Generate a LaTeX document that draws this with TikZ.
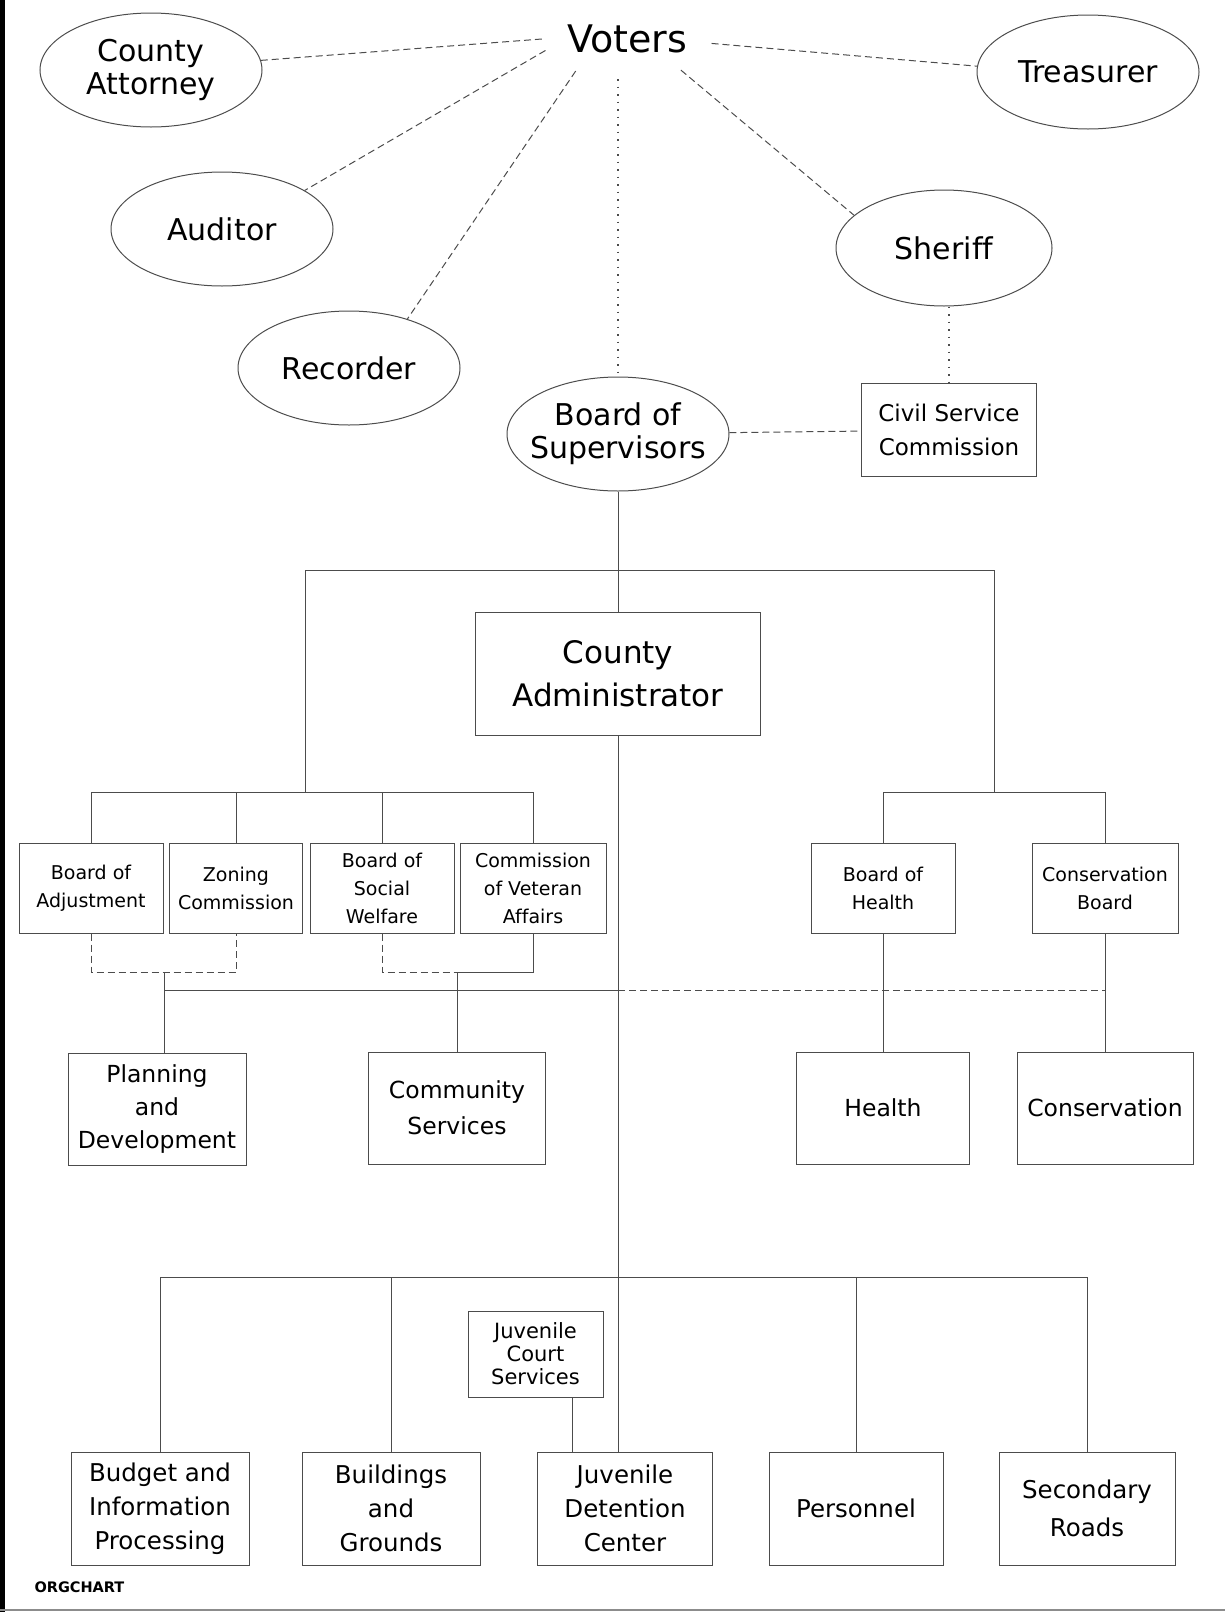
\documentclass[tikz,border=0pt]{standalone}
\usepackage{fontspec}
\setmainfont{DejaVu Sans}[Ligatures=NoCommon]
\usetikzlibrary{shapes.geometric}
\definecolor{penline}{rgb}{0.3,0.3,0.3}
\tikzset{
  elected/.style={
    ellipse,
    draw=penline,
    line width=1pt,
    minimum width=222pt,
    minimum height=114pt,
    inner xsep=-20pt,
    inner ysep=0pt,
    align=center,
    font=\fontsize{30}{33}\selectfont
  },
  minibox/.style={
    rectangle,
    draw=penline,
    line width=1pt,
    minimum width=144pt,
    minimum height=90pt,
    inner sep=4pt,
    align=center,
    font=\fontsize{19}{28}\selectfont
  },
  bigbox/.style={
    rectangle,
    draw=penline,
    line width=1pt,
    minimum width=177pt,
    minimum height=112pt,
    inner sep=4pt,
    align=center,
    font=\fontsize{23.5}{33}\selectfont
  },
  wire/.style={
    line width=1pt,
    penline
  },
  link/.style={
    line width=1pt,
    penline,
    dash pattern=on 7pt off 4pt
  },
  dotlink/.style={
    line width=1.4pt,
    penline,
    dash pattern=on 1.5pt off 6pt
  }
}
\begin{document}
\begin{tikzpicture}[x=1pt,y=-1pt]
\useasboundingbox (0,0) rectangle (1225,1612);

% elected offices
\node[ellipse, minimum width=164pt, minimum height=80pt, inner sep=0pt,
  font=\fontsize{38}{40}\selectfont] (voters) at (627,39) {Voters};
\node[elected] (attorney) at (151,70) {County\\Attorney};
\node[elected] (auditor) at (222,229) {Auditor};
\node[elected] (recorder) at (349,368) {Recorder};
\node[elected] (treasurer) at (1088,72) {Treasurer};
\node[elected, minimum width=216pt, minimum height=116pt] (sheriff) at (944,248) {Sheriff};
\node[elected] (supervisors) at (618,434) {Board of\\Supervisors};
\node[minibox, minimum width=175pt, minimum height=93pt,
  font=\fontsize{23}{34}\selectfont] (civil) at (949,430) {Civil Service\\Commission};

\draw[link] (voters.180) -- (attorney.5);
\draw[link] (voters.188) -- (auditor.25);
\draw[link] (voters.212) -- (recorder.40);
\draw[link] (voters.-3) -- (treasurer.177);
\draw[link] (voters.-30) -- (sheriff.160);
\draw[dotlink] (voters.south -| supervisors) -- (supervisors.north);
\draw[dotlink] (sheriff.south -| civil) -- (civil.north);
\draw[link] (supervisors) -- (civil);

% administrator and boards
\node[bigbox, minimum width=285pt, minimum height=123pt,
  font=\fontsize{31}{43}\selectfont] (admin) at (618,673.5) {County\\Administrator};
\node[minibox] (adjust) at (91,888) {Board of\\Adjustment};
\node[minibox, minimum width=133pt] (zoning) at (236,888) {Zoning\\Commission};
\node[minibox] (welfare) at (382,888) {Board of\\Social\\Welfare};
\node[minibox, minimum width=146pt] (veteran) at (533,888) {Commission\\of Veteran\\Affairs};
\node[minibox] (bhealth) at (883,888) {Board of\\Health};
\node[minibox, minimum width=146pt] (cboard) at (1105,888) {Conservation\\Board};

\coordinate (lbranch) at (305,570);
\coordinate (rbranch) at (994,570);
\coordinate (lsplit) at (305,792);
\coordinate (rsplit) at (994,792);
\draw[wire] (supervisors.south) -- (admin.north);
\draw[wire] (lbranch) -- (rbranch);
\draw[wire] (lbranch) -- (lsplit);
\draw[wire] (rbranch) -- (rsplit);
\draw[wire] (adjust.north) |- (lsplit) -| (veteran.north);
\draw[wire] (zoning.north) -- (zoning.north |- lsplit);
\draw[wire] (welfare.north) -- (welfare.north |- lsplit);
\draw[wire] (bhealth.north) |- (rsplit) -| (cboard.north);

% departments
\node[bigbox, minimum width=178pt] (planning) at (157,1109) {Planning\\and\\Development};
\node[bigbox, font=\fontsize{23.5}{36}\selectfont] (community) at (457,1108) {Community\\Services};
\node[bigbox, minimum width=173pt] (health) at (883,1108) {Health};
\node[bigbox, minimum width=176pt] (conservation) at (1105,1108) {Conservation};

\coordinate (lbrack) at (164,972);
\coordinate (rbrack) at (457,972);
\coordinate (cross) at (618,990);
\draw[link] (adjust.south) |- (lbrack) -| (zoning.south);
\draw[link] (welfare.south) |- (rbrack);
\draw[wire] (veteran.south) |- (rbrack) -- (community.north);
\draw[wire] (lbrack) -- (lbrack |- planning.north);
\draw[wire] (lbrack |- cross) -- (cross);
\draw[link] (cross) -- (cross -| cboard);
\draw[wire] (bhealth.south) -- (health.north);
\draw[wire] (cboard.south) -- (conservation.north);

% bottom row
\node[bigbox, minimum width=178pt, minimum height=113pt,
  font=\fontsize{24.5}{34}\selectfont] (budget) at (160,1508.5) {Budget and\\Information\\Processing};
\node[bigbox, minimum width=178pt, minimum height=113pt,
  font=\fontsize{24.5}{34}\selectfont] (buildings) at (391,1508.5) {Buildings\\and\\Grounds};
\node[bigbox, minimum width=175pt, minimum height=113pt,
  font=\fontsize{24.5}{34}\selectfont] (detention) at (625,1508.5) {Juvenile\\Detention\\Center};
\node[bigbox, minimum width=174pt, minimum height=113pt,
  font=\fontsize{24.5}{34}\selectfont] (personnel) at (856,1508.5) {Personnel};
\node[bigbox, minimum width=176pt, minimum height=113pt,
  font=\fontsize{24.5}{38}\selectfont] (roads) at (1087,1508.5) {Secondary\\Roads};
\node[minibox, minimum width=135pt, minimum height=86pt,
  font=\fontsize{21}{23}\selectfont] (juvcourt) at (535.5,1354) {Juvenile\\Court\\Services};

\coordinate (lower) at (618,1277);
\draw[wire] (admin.south) -- (admin.south |- detention.north);
\draw[wire] (budget.north) |- (lower) -| (roads.north);
\draw[wire] (buildings.north) -- (buildings.north |- lower);
\draw[wire] (personnel.north) -- (personnel.north |- lower);
\draw[wire] (juvcourt.-50) -- (juvcourt.-50 |- detention.north);

\node[anchor=west, font=\fontsize{14.5}{16}\selectfont\bfseries] (tag) at (31,1587) {ORGCHART};

% frame
\draw[line width=5pt] (2.5,0) -- (2.5,1612);
\draw[line width=2pt, black!45] (0,1610) -- (1225,1610);
\end{tikzpicture}
\end{document}
